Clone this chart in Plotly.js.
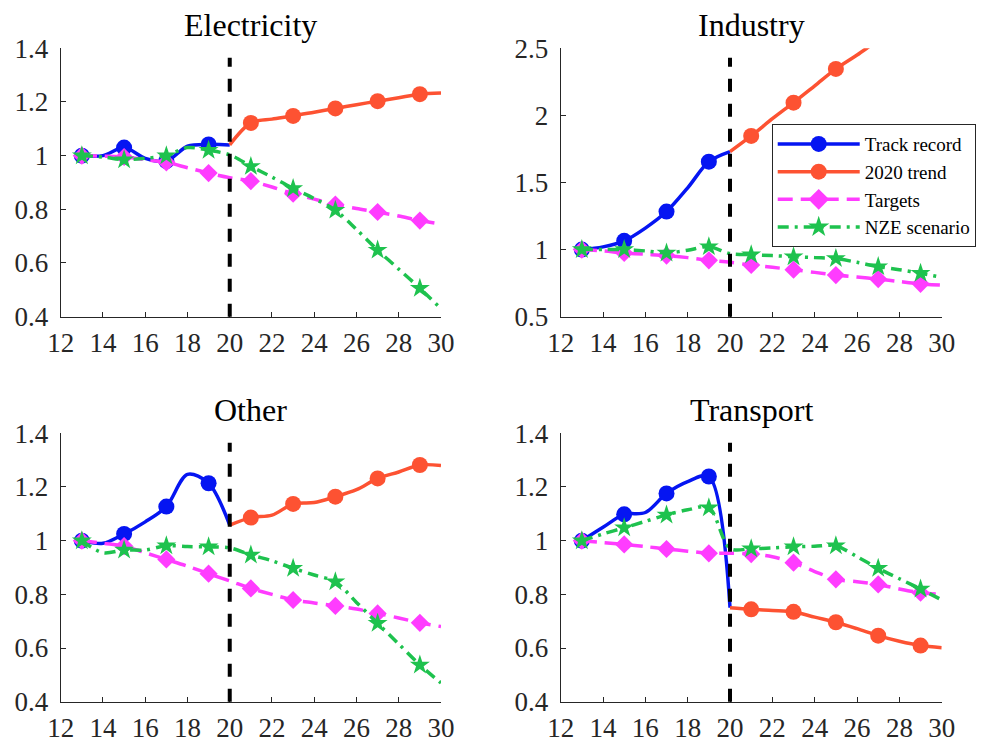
<!DOCTYPE html>
<html>
<head>
<meta charset="utf-8">
<script src="https://cdn.plot.ly/plotly-3.0.1.min.js"></script>
<style>html,body{margin:0;padding:0;background:#fff;}#chart{width:989px;height:743px;}</style>
</head>
<body>
<div id="chart"></div>
<script>
// ---- data ----
var panelTitles = ["Electricity", "Industry", "Other", "Transport"];
var seriesNames = ["Track record", "2020 trend", "Targets", "NZE scenario"];

var trackYears  = [13, 14, 15, 16, 17, 18, 19, 20];
var trendYears  = [20, 21, 22, 23, 24, 25, 26, 27, 28, 29, 30];
var targetYears = [13, 14, 15, 16, 17, 18, 19, 20, 21, 22, 23, 24, 25, 26, 27, 28, 29, 30];
var nzeYears    = [13, 14, 15, 16, 17, 18, 19, 20, 21, 22, 23, 24, 25, 26, 27, 28, 29, 30];

var elecTrack   = [1.00, 1.00, 1.03, 0.99, 0.98, 1.035, 1.042, 1.04];
var elecTrend   = [1.04, 1.122, 1.136, 1.148, 1.162, 1.176, 1.19, 1.203, 1.216, 1.229, 1.233];
var elecTargets = [1.00, 0.998, 0.995, 0.985, 0.975, 0.955, 0.935, 0.918, 0.905, 0.883, 0.858, 0.838, 0.818, 0.803, 0.79, 0.775, 0.758, 0.745];
var elecNze     = [1.00, 0.995, 0.985, 0.99, 1.00, 1.03, 1.02, 1.003, 0.96, 0.92, 0.878, 0.84, 0.797, 0.725, 0.648, 0.577, 0.506, 0.43];

var indTrack    = [1.00, 1.02, 1.065, 1.16, 1.283, 1.46, 1.655, 1.73];
var indTrend    = [1.73, 1.847, 1.975, 2.095, 2.22, 2.346, 2.45, 2.56, 2.66, 2.76, 2.85];
var indTargets  = [1.00, 0.99, 0.975, 0.965, 0.955, 0.94, 0.92, 0.905, 0.885, 0.868, 0.85, 0.83, 0.81, 0.795, 0.78, 0.762, 0.745, 0.735];
var indNze      = [1.00, 1.00, 1.00, 0.99, 0.975, 0.995, 1.022, 0.97, 0.962, 0.955, 0.947, 0.94, 0.933, 0.905, 0.873, 0.85, 0.823, 0.793];

var othTrack    = [1.00, 0.99, 1.025, 1.07, 1.127, 1.247, 1.214, 1.058];
var othTrend    = [1.058, 1.086, 1.095, 1.137, 1.142, 1.164, 1.19, 1.232, 1.256, 1.282, 1.28];
var othTargets  = [1.00, 0.99, 0.98, 0.955, 0.93, 0.905, 0.877, 0.85, 0.822, 0.80, 0.779, 0.768, 0.757, 0.745, 0.729, 0.712, 0.694, 0.68];
var othNze      = [1.00, 0.955, 0.965, 0.965, 0.981, 0.978, 0.977, 0.973, 0.947, 0.925, 0.897, 0.872, 0.847, 0.77, 0.692, 0.615, 0.537, 0.47];

var traTrack    = [1.00, 1.05, 1.098, 1.105, 1.176, 1.22, 1.239, 0.75];
var traTrend    = [0.75, 0.744, 0.74, 0.735, 0.715, 0.696, 0.672, 0.646, 0.625, 0.609, 0.601];
var traTargets  = [1.00, 0.993, 0.986, 0.978, 0.969, 0.961, 0.953, 0.953, 0.95, 0.94, 0.918, 0.885, 0.856, 0.847, 0.837, 0.82, 0.806, 0.80];
var traNze      = [1.00, 1.025, 1.048, 1.072, 1.096, 1.115, 1.123, 0.971, 0.97, 0.973, 0.977, 0.979, 0.981, 0.94, 0.897, 0.858, 0.82, 0.779];

var xTicks = [12, 14, 16, 18, 20, 22, 24, 26, 28, 30];
var yRanges = [[0.4, 1.4], [0.5, 2.5], [0.4, 1.4], [0.4, 1.4]];
var yDtick = [0.2, 0.5, 0.2, 0.2];
var splitYear = 20;

// ---- styles ----
var FONT = "'Liberation Serif', serif";
var AXC = "#262626";
var styles = [
  {color: "#0515f2", dash: "solid", symbol: "circle", size: 16},
  {color: "#fd5232", dash: "solid", symbol: "circle", size: 16},
  {color: "#ff3cff", dash: "15px,8px", symbol: "diamond", size: 14},
  {color: "#1ec24e", dash: "11px,6px,3px,6px", symbol: "star", size: 15}
];

var panels = [
  {years: [trackYears, trendYears, targetYears, nzeYears], vals: [elecTrack, elecTrend, elecTargets, elecNze]},
  {years: [trackYears, trendYears, targetYears, nzeYears], vals: [indTrack, indTrend, indTargets, indNze]},
  {years: [trackYears, trendYears, targetYears, nzeYears], vals: [othTrack, othTrend, othTargets, othNze]},
  {years: [trackYears, trendYears, targetYears, nzeYears], vals: [traTrack, traTrend, traTargets, traNze]}
];

var traces = [];
panels.forEach(function (p, pi) {
  var xa = pi === 0 ? "x" : "x" + (pi + 1);
  var ya = pi === 0 ? "y" : "y" + (pi + 1);
  p.vals.forEach(function (v, si) {
    var yrs = p.years[si];
    var st = styles[si];
    traces.push({
      type: "scatter", mode: "lines", x: yrs, y: v, xaxis: xa, yaxis: ya,
      line: {color: st.color, width: 3.5, dash: st.dash, shape: "spline", smoothing: 0.9},
      showlegend: false, hoverinfo: "skip"
    });
    var mx = [], my = [];
    yrs.forEach(function (yr, i) { if (yr % 2 === 1) { mx.push(yr); my.push(v[i]); } });
    traces.push({
      type: "scatter", mode: "markers", x: mx, y: my, xaxis: xa, yaxis: ya,
      marker: {color: st.color, symbol: st.symbol, size: st.size, line: {width: 0}},
      showlegend: false, hoverinfo: "skip"
    });
  });
});
// legend keys (no data) on the Industry panel
styles.forEach(function (st, si) {
  traces.push({
    type: "scatter", mode: "lines+markers", x: [null], y: [null], xaxis: "x2", yaxis: "y2",
    name: seriesNames[si],
    line: {color: st.color, width: 3.5, dash: st.dash},
    marker: {color: st.color, symbol: st.symbol, size: 16, line: {width: 0}},
    showlegend: true
  });
});

var xDomains = [[0.0614, 0.4459], [0.5669, 0.9522], [0.0614, 0.4459], [0.5669, 0.9522]];
var yDomains = [[0.5738, 0.9350], [0.5738, 0.9350], [0.0556, 0.4168], [0.0556, 0.4168]];

var layout = {
  width: 989, height: 743,
  margin: {l: 0, r: 0, t: 0, b: 0},
  paper_bgcolor: "#ffffff", plot_bgcolor: "#ffffff",
  font: {family: FONT, size: 26, color: AXC},
  showlegend: true,
  legend: {
    x: 0.7803, y: 0.8330, xanchor: "left", yanchor: "top",
    bgcolor: "#ffffff", bordercolor: AXC, borderwidth: 1,
    font: {family: FONT, size: 19, color: "#000000"},
    itemwidth: 82, tracegroupgap: 0
  },
  shapes: [], annotations: []
};

for (var i = 0; i < 4; i++) {
  var sx = i === 0 ? "" : String(i + 1);
  layout["xaxis" + sx] = {
    domain: xDomains[i], range: [12, 30], tickvals: xTicks, anchor: "y" + sx,
    showline: true, linecolor: AXC, linewidth: 1, mirror: false,
    ticks: "inside", ticklen: 5, tickwidth: 1, tickcolor: AXC,
    showgrid: false, zeroline: false, fixedrange: true,
    tickfont: {family: FONT, size: 27, color: AXC}, ticklabelstandoff: 2
  };
  layout["yaxis" + sx] = {
    domain: yDomains[i], range: yRanges[i], dtick: yDtick[i], tick0: 0, anchor: "x" + sx,
    showline: true, linecolor: AXC, linewidth: 1, mirror: false,
    ticks: "inside", ticklen: 5, tickwidth: 1, tickcolor: AXC,
    showgrid: false, zeroline: false, fixedrange: true,
    tickfont: {family: FONT, size: 27, color: AXC}, ticklabelstandoff: 6
  };
  layout.shapes.push({
    type: "line", xref: "x" + sx, yref: "y" + sx + " domain",
    x0: splitYear, x1: splitYear, y0: 0, y1: 0.965,
    line: {color: "#000000", width: 4, dash: "13px,12px"}, layer: "above"
  });
  layout.annotations.push({
    text: panelTitles[i], showarrow: false,
    xref: "x" + sx + " domain", yref: "y" + sx + " domain",
    x: 0.5, y: 1, xanchor: "center", yanchor: "bottom", yshift: 3,
    font: {family: FONT, size: 32, color: "#000000"}
  });
}

Plotly.newPlot("chart", traces, layout, {staticPlot: true, displayModeBar: false});
</script>
</body>
</html>
